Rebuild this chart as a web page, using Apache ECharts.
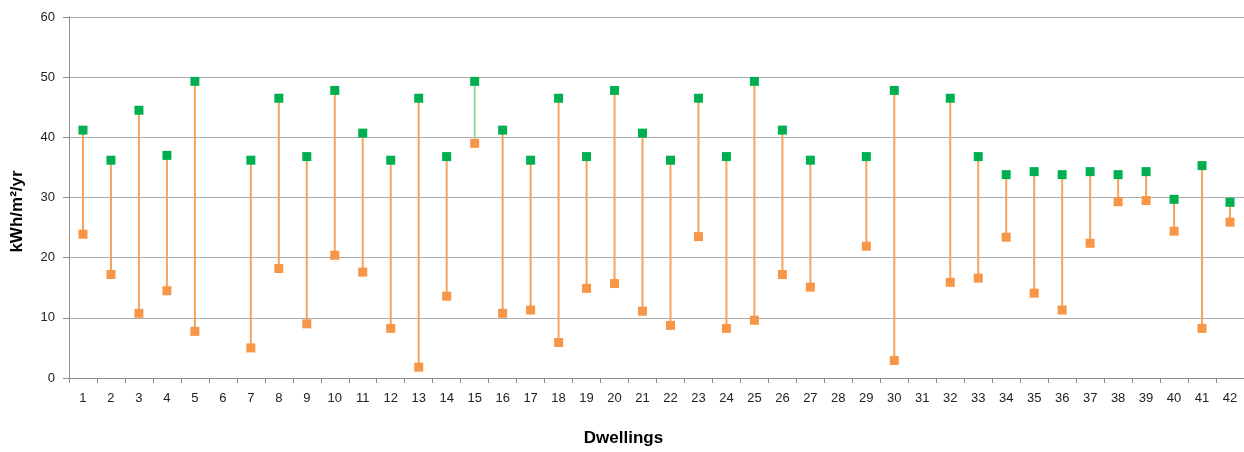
<!DOCTYPE html>
<html>
<head>
<meta charset="utf-8">
<script src="https://cdn.jsdelivr.net/npm/echarts@6/dist/echarts.min.js"></script>
<style>
  html, body { margin: 0; padding: 0; background: #fff; }
  #chart { width: 1244px; height: 452px; }
</style>
</head>
<body>
<div id="chart"></div>
<script>
// dwellings 1..42
const dwellings = Array.from({ length: 42 }, (_, i) => String(i + 1));

// upper (green) values
const greenValues = [
  41.2, 36.2, 44.5, 37.0, 49.3, null, 36.2, 46.5, 36.8, 47.8,
  40.7, 36.2, 46.5, 36.8, 49.3, 41.2, 36.2, 46.5, 36.8, 47.8,
  40.7, 36.2, 46.5, 36.8, 49.3, 41.2, 36.2, null, 36.8, 47.8,
  null, 46.5, 36.8, 33.8, 34.3, 33.8, 34.3, 33.8, 34.3, 29.7,
  35.3, 29.2
];

// lower (orange) values
const orangeValues = [
  23.9, 17.2, 10.75, 14.5, 7.75, null, 5.0, 18.2, 9.0, 20.4,
  17.6, 8.25, 1.8, 13.6, 39.0, 10.75, 11.3, 5.9, 14.9, 15.7,
  11.1, 8.75, 23.5, 8.25, 9.6, 17.2, 15.1, null, 21.9, 2.9,
  null, 15.9, 16.6, 23.4, 14.1, 11.3, 22.4, 29.3, 29.5, 24.4,
  8.25, 25.9
];

// dwellings whose connector is drawn green
const greenLinks = ['15'];

const chart = echarts.init(document.getElementById('chart'));

const linkData = dwellings.map((d, i) => [i, greenValues[i], orangeValues[i]]);

chart.setOption({
  animation: false,
  grid: { left: 69, right: 0, top: 17, bottom: 74 },
  xAxis: {
    type: 'category',
    data: dwellings,
    boundaryGap: true,
    name: 'Dwellings',
    nameLocation: 'middle',
    nameGap: 52,
    nameTextStyle: { fontFamily: 'Liberation Sans', fontWeight: 'bold', fontSize: 17, color: '#000', padding: [0, 66, 0, 0] },
    axisLine: { lineStyle: { color: '#8c8c8c', width: 1 } },
    axisTick: { show: true, alignWithLabel: false, length: 5, lineStyle: { color: '#8c8c8c' } },
    axisLabel: { margin: 14, fontFamily: 'Liberation Sans', fontSize: 13, color: '#222', interval: 0 }
  },
  yAxis: {
    type: 'value',
    min: 0,
    max: 60,
    interval: 10,
    name: 'kWh/m²/yr',
    nameLocation: 'middle',
    nameGap: 43,
    nameTextStyle: { fontFamily: 'Liberation Sans', fontWeight: 'bold', fontSize: 17, color: '#000', padding: [0, 28, 0, 0] },
    axisLine: { show: true, lineStyle: { color: '#8c8c8c', width: 1 } },
    axisTick: { show: true, length: 6, lineStyle: { color: '#8c8c8c' } },
    axisLabel: { margin: 14, fontFamily: 'Liberation Sans', fontSize: 13, color: '#222' },
    splitLine: { lineStyle: { color: '#ababab', width: 1 } }
  },
  series: [
    {
      type: 'custom',
      data: linkData,
      encode: { x: 0, y: [1, 2] },
      z: 1,
      renderItem: function (params, api) {
        const hi = api.value(1);
        const lo = api.value(2);
        if (hi == null || lo == null || isNaN(hi) || isNaN(lo)) return null;
        const idx = api.value(0);
        const p1 = api.coord([idx, hi]);
        const p2 = api.coord([idx, lo]);
        const green = greenLinks.indexOf(dwellings[idx]) >= 0;
        return {
          type: 'line',
          shape: { x1: p1[0], y1: p1[1], x2: p2[0], y2: p2[1] },
          style: { stroke: green ? '#9fd39f' : '#f5a45e', lineWidth: 2 }
        };
      }
    },
    {
      name: 'Lower',
      type: 'scatter',
      data: orangeValues,
      symbol: 'rect',
      symbolSize: 9,
      z: 3,
      itemStyle: { color: '#f79646', opacity: 1 }
    },
    {
      name: 'Upper',
      type: 'scatter',
      data: greenValues,
      symbol: 'rect',
      symbolSize: 9,
      z: 4,
      itemStyle: { color: '#00b050', opacity: 1 }
    }
  ]
});
</script>
</body>
</html>
